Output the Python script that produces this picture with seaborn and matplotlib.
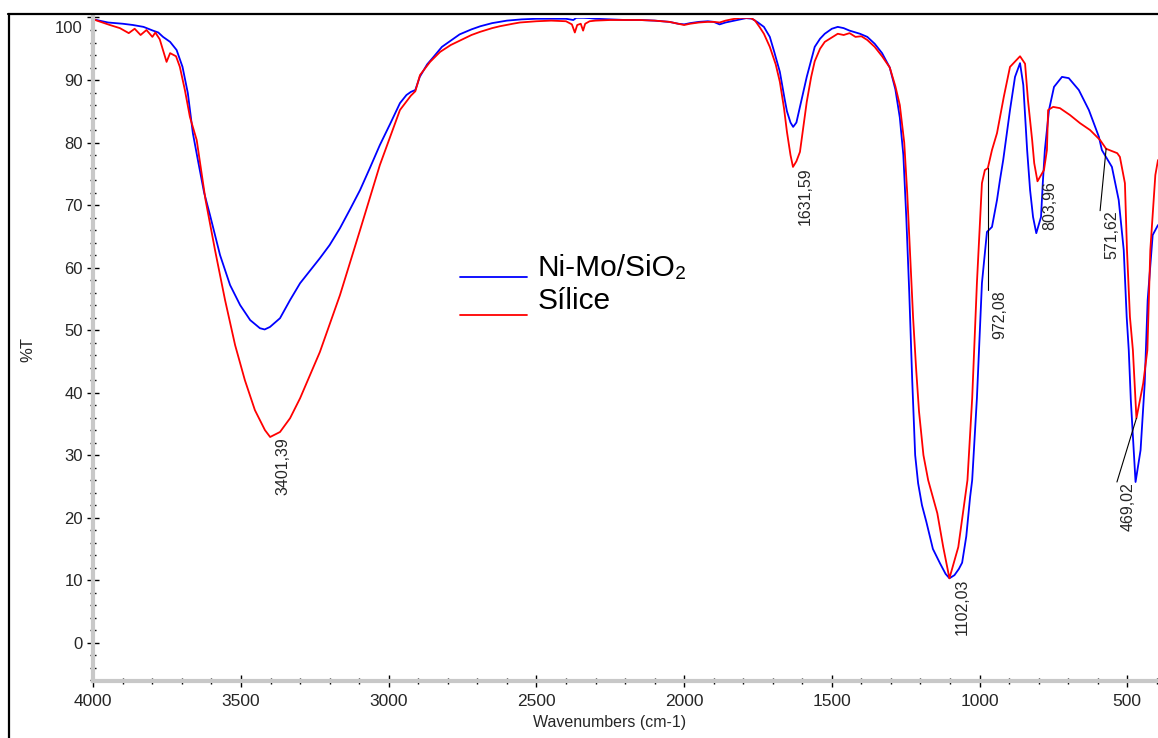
import numpy as np
import pandas as pd
import matplotlib
matplotlib.use("Agg")
import matplotlib.pyplot as plt
from matplotlib.lines import Line2D
from matplotlib.ticker import MultipleLocator
from matplotlib.transforms import ScaledTranslation
import seaborn as sns

# FTIR spectra (%T vs wavenumber, cm-1)
wn_nimo = [4000, 3950, 3900, 3866, 3830, 3798, 3780, 3764, 3740, 3718, 3698, 3680, 3663, 3646,
           3625, 3605, 3571, 3537, 3503, 3469, 3436, 3420, 3402, 3368, 3334, 3300, 3265, 3233,
           3200, 3165, 3130, 3097, 3064, 3030, 2995, 2962, 2940, 2925, 2910, 2895, 2870, 2850,
           2820, 2790, 2760, 2720, 2690, 2650, 2600, 2550, 2500, 2450, 2400, 2375, 2365, 2340,
           2320, 2300, 2250, 2200, 2150, 2100, 2050, 2020, 2000, 1980, 1950, 1920, 1900, 1880,
           1860, 1840, 1810, 1790, 1770, 1750, 1730, 1710, 1695, 1676, 1660, 1652, 1640, 1631,
           1620, 1608, 1585, 1558, 1540, 1524, 1500, 1480, 1460, 1440, 1405, 1380, 1355, 1330,
           1304, 1285, 1270, 1258, 1248, 1238, 1228, 1218, 1208, 1195, 1180, 1158, 1134, 1115,
           1102, 1085, 1070, 1059, 1045, 1032, 1025, 1009, 992, 975, 958, 941, 931, 920, 914,
           897, 880, 863, 852, 839, 829, 819, 808, 792, 786, 779, 765, 748, 721, 698, 664, 630,
           596, 586, 552, 529, 512, 502, 495, 488, 478, 472, 455, 441, 431, 414, 396]
t_nimo = [99.7, 99.2, 99.0, 98.8, 98.5, 97.9, 97.6, 96.9, 96.1, 94.8, 92.1, 87.9, 81.5, 77.2,
          72.0, 68.4, 62.0, 57.2, 54.0, 51.6, 50.3, 50.1, 50.5, 51.9, 54.8, 57.5, 59.6, 61.5,
          63.6, 66.3, 69.4, 72.4, 75.9, 79.6, 83.0, 86.3, 87.6, 88.1, 88.4, 90.5, 92.5, 93.6,
          95.3, 96.3, 97.3, 98.1, 98.6, 99.1, 99.5, 99.7, 99.8, 99.8, 99.8, 99.6, 99.95, 99.95,
          99.9, 99.8, 99.7, 99.6, 99.6, 99.5, 99.3, 99.0, 98.9, 99.1, 99.3, 99.4, 99.3, 98.9,
          99.2, 99.4, 99.7, 99.9, 99.8, 99.2, 98.5, 96.9, 94.5, 91.3, 87.0, 85.0, 83.2, 82.5,
          83.2, 85.7, 90.5, 95.3, 96.6, 97.4, 98.2, 98.5, 98.3, 97.9, 97.4, 96.9, 95.8, 94.3,
          92.0, 88.5, 84.0, 78.0, 68.0, 56.0, 42.0, 30.0, 25.5, 22.0, 19.3, 15.0, 12.7, 11.0,
          10.3, 10.8, 11.8, 12.8, 17.0, 23.3, 26.0, 39.1, 57.5, 65.7, 66.5, 70.8, 74.0, 77.2, 79.3,
          85.2, 90.5, 92.7, 89.2, 78.8, 72.4, 68.1, 65.5, 68.1, 73.5, 78.8, 85.2, 88.9, 90.5, 90.3,
          88.4, 85.2, 80.9, 78.8, 76.1, 70.8, 62.8, 52.1, 46.8, 38.8, 30.8, 25.7, 30.8, 41.5, 54.8,
          65.2, 66.8]

wn_silice = [4000, 3944, 3910, 3880, 3860, 3840, 3820, 3800, 3790, 3775, 3752, 3740, 3720, 3707,
             3690, 3673, 3650, 3620, 3588, 3554, 3520, 3487, 3453, 3419, 3401.39, 3368, 3334, 3300,
             3233, 3165, 3097, 3030, 2962, 2925, 2910, 2894, 2860, 2826, 2790, 2759, 2720, 2691,
             2650, 2624, 2580, 2556, 2500, 2450, 2400, 2380, 2370, 2362, 2350, 2342, 2335, 2320,
             2300, 2250, 2200, 2150, 2100, 2050, 2020, 2000, 1980, 1950, 1920, 1900, 1880, 1860,
             1840, 1810, 1790, 1775, 1760, 1745, 1730, 1710, 1690, 1676, 1662, 1652, 1640, 1631.59,
             1620, 1608, 1598, 1585, 1570, 1558, 1540, 1524, 1500, 1480, 1460, 1440, 1420, 1400,
             1380, 1355, 1330, 1304, 1285, 1270, 1255, 1245, 1235, 1225, 1215, 1205, 1190, 1174,
             1143, 1123, 1102.03, 1072, 1041, 1025, 1009, 992, 982, 972.08, 958, 941, 918, 897,
             863, 846, 836, 822, 815, 803.96, 782, 772, 768, 751, 728, 694, 660, 626, 592, 571.62,
             534, 525, 508, 501, 491, 481, 469.02, 446, 432, 422, 405, 396]
t_silice = [99.7, 98.8, 98.3, 97.5, 98.2, 97.2, 98.0, 96.9, 97.6, 96.5, 92.9, 94.3, 93.8, 92.1,
            88.4, 84.1, 80.4, 70.8, 62.8, 54.8, 47.6, 42.0, 37.2, 34.0, 32.9, 33.7, 35.9, 39.1,
            46.5, 55.6, 66.0, 76.4, 85.2, 87.5, 88.2, 90.8, 92.9, 94.5, 95.6, 96.3, 97.2, 97.7,
            98.3, 98.6, 99.0, 99.2, 99.4, 99.5, 99.4, 98.9, 97.6, 98.8, 99.0, 97.9, 99.0, 99.4,
            99.5, 99.6, 99.6, 99.6, 99.5, 99.3, 99.0, 98.8, 99.0, 99.2, 99.3, 99.3, 99.2, 99.5,
            99.7, 99.95, 99.95, 99.95, 99.5, 98.5, 97.4, 95.3, 92.5, 89.7, 85.5, 81.7, 78.0, 76.1,
            77.0, 78.5, 82.0, 86.5, 90.5, 93.0, 95.0, 96.1, 96.8, 97.4, 97.2, 97.5, 96.9, 97.0,
            96.4, 95.3, 93.8, 92.0, 89.0, 86.0, 80.0, 72.0, 62.0, 52.0, 44.0, 37.0, 30.0, 26.0,
            20.7, 15.3, 10.3, 15.3, 26.0, 39.1, 57.5, 73.5, 75.6, 75.9, 78.8, 81.5, 87.3, 92.1,
            93.8, 92.6, 86.7, 80.4, 76.7, 73.8, 75.6, 78.8, 85.2, 85.7, 85.5, 84.4, 83.1, 82.0, 80.4, 79.0,
            78.3, 77.7, 73.5, 62.8, 52.1, 46.8, 35.9, 41.5, 46.8, 62.8, 74.8, 77.2]

series_names = ["Ni-Mo/SiO\u2082", "Sílice"]
series_colors = ["#0000ff", "#ff0000"]

peak_labels = ["3401,39", "1631,59", "1102,03", "972,08", "803,96", "571,62", "469,02"]
peak_wn = [3401.39, 1631.59, 1102.03, 972.08, 803.96, 571.62, 469.02]

x_ticks = [4000, 3500, 3000, 2500, 2000, 1500, 1000, 500]
y_ticks = [0, 10, 20, 30, 40, 50, 60, 70, 80, 90, 100]

sns.set_theme(style="white")
plt.rcParams["font.family"] = ["Liberation Sans", "DejaVu Sans"]

W, H = 1158, 738
fig = plt.figure(figsize=(W / 100, H / 100), dpi=100)
fig.patch.set_facecolor("white")
ax = fig.add_axes([93.3 / W, 57.5 / H, 1 - 93.3 / W, (720.5 - 57.5) / H])

df = pd.concat([
    pd.DataFrame({"wn": wn_nimo, "T": t_nimo, "muestra": series_names[0]}),
    pd.DataFrame({"wn": wn_silice, "T": t_silice, "muestra": series_names[1]}),
])
sns.lineplot(data=df, x="wn", y="T", hue="muestra", hue_order=series_names,
             palette=dict(zip(series_names, series_colors)), estimator=None, sort=False,
             linewidth=1.3, legend=False, ax=ax)

ax.set_xlim(4000, 396)
ax.set_ylim(-6.05, 100)
ax.set_xticks(x_ticks)
ax.set_yticks(y_ticks)
ax.xaxis.set_minor_locator(MultipleLocator(100))
ax.yaxis.set_minor_locator(MultipleLocator(2))

for side in ["top", "right"]:
    ax.spines[side].set_visible(False)
for side in ["left", "bottom"]:
    ax.spines[side].set_color("#c8c8c8")
    ax.spines[side].set_linewidth(3)

ax.tick_params(axis="both", which="major", direction="inout", length=9, width=1,
               color="black", left=True, bottom=True)
ax.tick_params(axis="both", which="minor", direction="inout", length=5, width=1,
               color="black", left=True, bottom=True)
ax.tick_params(axis="y", which="major", labelsize=12, pad=3)
ax.tick_params(axis="x", which="major", labelsize=12.5, pad=5)

ax.set_xlabel("Wavenumbers (cm-1)", fontsize=11.5)
ax.xaxis.set_label_coords((610 - 93.3) / (W - 93.3), -0.052)
ax.set_ylabel("%T", fontsize=12, labelpad=14)
ax.grid(False)

# keep the top tick label inside the frame
top_tick = ax.yaxis.get_major_ticks()[-1]
top_tick.label1.set_transform(top_tick.label1.get_transform() +
                              ScaledTranslation(0, -9.5 / 100, fig.dpi_scale_trans))

# peak annotations, placed under each band of the Sílice trace
wn_r = np.array(wn_silice)[::-1]
t_r = np.array(t_silice)[::-1]
leaders = {"972,08": (972.08, 56.4), "571,62": (592, 69.1), "469,02": (535, 25.7)}
for lab, wn in zip(peak_labels, peak_wn):
    tv = float(np.interp(wn, wn_r, t_r))
    if lab in leaders:
        ex, ey = leaders[lab]
        ax.plot([wn, ex], [tv, ey], color="black", lw=0.8)
        ax.annotate(lab, xy=(ex, ey), xytext=(4, 0), textcoords="offset pixels",
                    rotation=90, rotation_mode="anchor", ha="right", va="top", fontsize=11.5)
    else:
        ax.annotate(lab, xy=(wn, tv), xytext=(5, 0), textcoords="offset pixels",
                    rotation=90, rotation_mode="anchor", ha="right", va="top", fontsize=11.5)

# legend: sample lines sit on the text baseline
legend_line_y = [277, 315]
legend_text_y = [276, 309]
for name, color, ly, ty in zip(series_names, series_colors, legend_line_y, legend_text_y):
    fig.add_artist(Line2D([460 / W, 527 / W], [1 - ly / H, 1 - ly / H],
                          transform=fig.transFigure, color=color, lw=1.3))
    fig.text(538 / W, 1 - ty / H, name, fontsize=21.5, ha="left", va="baseline",
             color="black")

# outer frame
fig.add_artist(Line2D([8.5 / W, 8.5 / W], [0, 1 - 13.5 / H], transform=fig.transFigure,
                      color="black", lw=1.6))
fig.add_artist(Line2D([8 / W, 1], [1 - 13.5 / H, 1 - 13.5 / H], transform=fig.transFigure,
                      color="black", lw=1.6))

fig.savefig("out.png", dpi=100, facecolor="white")
